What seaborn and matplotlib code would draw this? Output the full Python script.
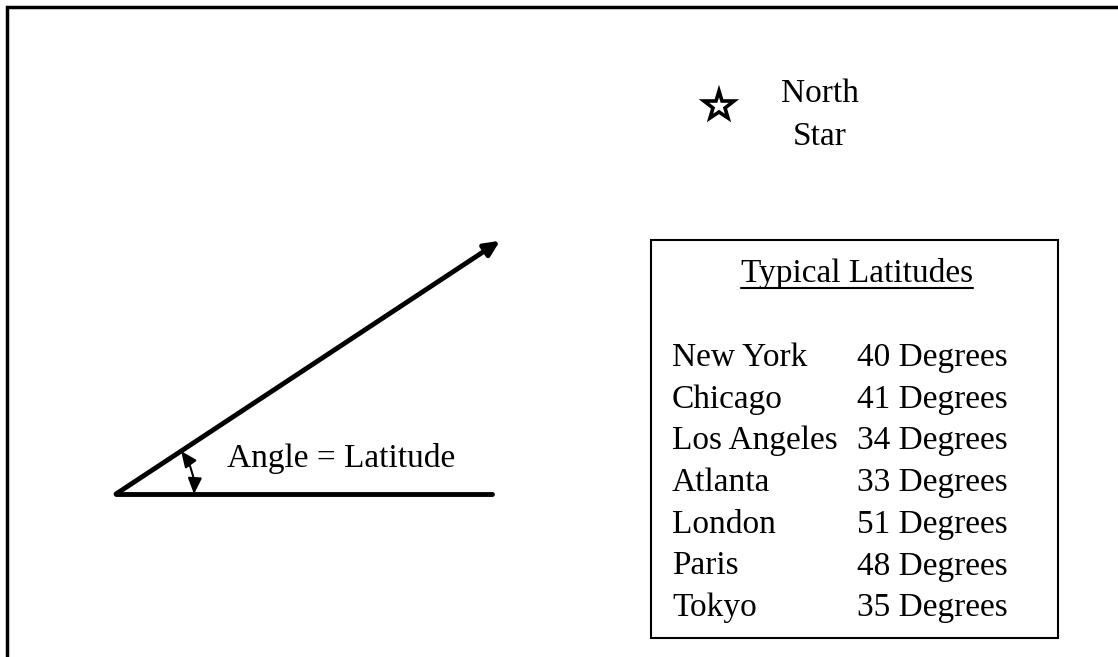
import numpy as np
import matplotlib
matplotlib.use("Agg")
import matplotlib.pyplot as plt
import seaborn as sns
from matplotlib.patches import Rectangle
from matplotlib.markers import MarkerStyle

# table contents
cities = ["New York", "Chicago", "Los Angeles", "Atlanta", "London", "Paris", "Tokyo"]
latitudes = [40, 41, 34, 33, 51, 48, 35]
table_title = "Typical Latitudes"
angle_label = "Angle = Latitude"
star_lines = ["North", "Star"]
ray_angle = 33.4  # degrees above the horizon

sns.set_theme(style="white")
plt.rcParams['font.family'] = ['Liberation Serif', 'DejaVu Serif']
plt.rcParams['text.color'] = 'black'

fig = plt.figure(figsize=(11.18, 6.57), dpi=100)
ax = fig.add_axes([0, 0, 1, 1])
ax.set_xlim(0, 1118)
ax.set_ylim(657, 0)
ax.axis('off')

FS = 24

# outer frame, only top and left edges fall inside the picture
ax.plot([7, 7, 1118], [657, 7, 7], color='black', lw=2.5, solid_joinstyle='miter')

# horizon line and sight line to the star
origin = np.array([116, 494])
sns.lineplot(x=[origin[0], 492], y=[origin[1], origin[1]], color='black', lw=3.5, ax=ax)
a = np.radians(ray_angle)
tip = origin + 460 * np.array([np.cos(a), -np.sin(a)])
ax.annotate("", xy=tip, xytext=origin,
            arrowprops=dict(arrowstyle="-|>,head_length=0.75,head_width=0.35", lw=3.5,
                            color='black', shrinkA=0, shrinkB=0, mutation_scale=12))

# angle arc
r = 78
p1 = origin + r * np.array([np.cos(a), -np.sin(a)])
p2 = origin + np.array([r, 0])
ax.annotate("", xy=p2, xytext=p1,
            arrowprops=dict(arrowstyle="<|-|>,head_length=0.8,head_width=0.35", lw=1.5,
                            color='black', shrinkA=0, shrinkB=0, mutation_scale=12,
                            connectionstyle="arc3,rad=-0.18"))
ax.text(227, 467, angle_label, fontsize=FS, color='black', va='baseline', ha='left')

# north star
star = MarkerStyle('*', joinstyle='miter')
ax.plot(719, 106, marker=star, ms=22, mfc='white', mec='black', mew=2.6)
ax.text(820, 102, star_lines[0], fontsize=FS, color='black', va='baseline', ha='center')
ax.text(820, 145, star_lines[1], fontsize=FS, color='black', va='baseline', ha='center')

# latitude table
ax.add_patch(Rectangle((651, 240), 1058 - 651, 638 - 240, fill=False, ec='black', lw=1.5))
t = ax.text(857, 282, table_title, fontsize=FS, color='black', va='baseline', ha='center')
fig.canvas.draw()
bb = t.get_window_extent().transformed(ax.transData.inverted())
ax.plot([bb.x0, bb.x1], [288, 288], color='black', lw=1.5)

row0, step = 366, 41.7
for i, (c, lat) in enumerate(zip(cities, latitudes)):
    y = row0 + i * step
    ax.text(672, y, c, fontsize=FS, color='black', va='baseline', ha='left')
    ax.text(857, y, f"{lat} Degrees", fontsize=FS, color='black', va='baseline', ha='left')

fig.savefig("out.png", dpi=100, facecolor='white')
